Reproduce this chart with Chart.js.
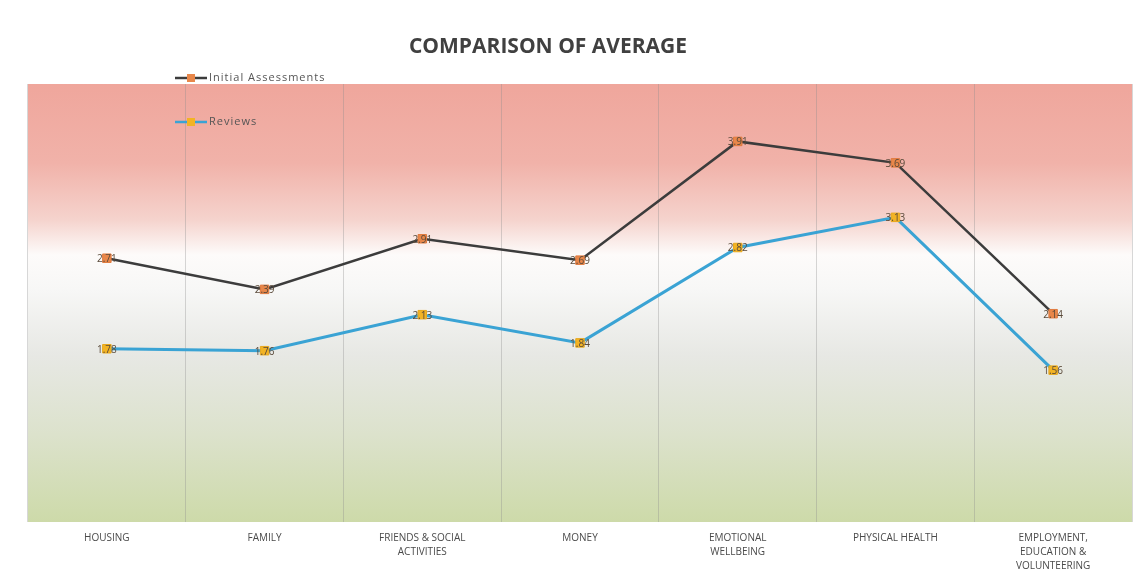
<!DOCTYPE html>
<html>
<head>
<meta charset="utf-8">
<script src="https://cdn.jsdelivr.net/npm/chart.js@4.4.1/dist/chart.umd.min.js"></script>
<style>
  html, body { margin: 0; padding: 0; background: #fff; }
  #wrap { width: 1141px; height: 578px; position: relative; }
</style>
</head>
<body>
<div id="wrap"><canvas id="avgChart" width="1141" height="578"></canvas></div>
<script>
const categories = [
    'HOUSING',
    'FAMILY',
    ['FRIENDS & SOCIAL', 'ACTIVITIES'],
    'MONEY',
    ['EMOTIONAL', 'WELLBEING'],
    'PHYSICAL HEALTH',
    ['EMPLOYMENT,', 'EDUCATION &', 'VOLUNTEERING']
];
const initialAssessments = [2.71, 2.39, 2.91, 2.69, 3.91, 3.69, 2.14];
const reviews = [1.78, 1.76, 2.13, 1.84, 2.82, 3.13, 1.56];
const seriesNames = ['Initial Assessments', 'Reviews'];

// gradient behind the plot area
const bgPlugin = {
    id: 'bg',
    beforeDraw(chart) {
        const { ctx, chartArea: a } = chart;
        const g = ctx.createLinearGradient(0, a.top, 0, a.bottom);
        g.addColorStop(0, '#efa69c');
        g.addColorStop(0.18, '#f1b2a9');
        g.addColorStop(0.31, '#f5d3cd');
        g.addColorStop(0.39, '#fdfbfa');
        g.addColorStop(0.47, '#f7f7f6');
        g.addColorStop(0.62, '#e7e8e4');
        g.addColorStop(0.80, '#dce2cc');
        g.addColorStop(1, '#cddaa9');
        ctx.save();
        ctx.fillStyle = g;
        ctx.fillRect(a.left, a.top, a.right - a.left, a.bottom - a.top);
        ctx.restore();
    }
};

// value labels, title and legend
const textPlugin = {
    id: 'texts',
    afterDraw(chart) {
        const ctx = chart.ctx;
        ctx.save();
        ctx.font = '10px "Open Sans", sans-serif';
        ctx.fillStyle = '#5a4a3a';
        ctx.textAlign = 'center';
        ctx.textBaseline = 'middle';
        chart.data.datasets.forEach((ds, i) => {
            chart.getDatasetMeta(i).data.forEach((pt, j) => {
                ctx.fillText(ds.data[j].toFixed(2), pt.x, pt.y + 1);
            });
        });

        ctx.font = 'bold 21px "Open Sans", sans-serif';
        ctx.fillStyle = '#404040';
        ctx.fillText('COMPARISON OF AVERAGE', 548, 47);

        const items = [
            { y: 78, line: '#3c3c3c', mark: '#e8874a' },
            { y: 122, line: '#3aa3d4', mark: '#f2b324' }
        ];
        items.forEach((it, i) => {
            ctx.strokeStyle = it.line;
            ctx.lineWidth = 2.5;
            ctx.beginPath();
            ctx.moveTo(175, it.y);
            ctx.lineTo(207, it.y);
            ctx.stroke();
            ctx.fillStyle = it.mark;
            ctx.fillRect(187, it.y - 4, 8, 8);
            ctx.font = '11px "Open Sans", sans-serif';
            ctx.letterSpacing = '1px';
            ctx.fillStyle = '#555';
            ctx.textAlign = 'left';
            ctx.fillText(seriesNames[i], 209, it.y);
            ctx.letterSpacing = '0px';
        });
        ctx.restore();
    }
};

new Chart(document.getElementById('avgChart'), {
    type: 'line',
    data: {
        labels: categories,
        datasets: [{
            label: seriesNames[0],
            data: initialAssessments,
            borderColor: '#3c3c3c',
            borderWidth: 2.5,
            backgroundColor: '#e8874a',
            pointStyle: 'rect',
            pointRadius: 6,
            pointBorderColor: '#e07a3e',
            pointBorderWidth: 1,
            tension: 0
        },
        {
            label: seriesNames[1],
            data: reviews,
            borderColor: '#3aa3d4',
            borderWidth: 3,
            backgroundColor: '#f2b324',
            pointStyle: 'rect',
            pointRadius: 6,
            pointBorderColor: '#e8a81c',
            pointBorderWidth: 1,
            tension: 0
        }]
    },
    options: {
        responsive: false,
        animation: false,
        layout: {
            padding: { top: 84, left: 28, right: 9, bottom: 0 }
        },
        plugins: {
            legend: { display: false },
            title: { display: false },
            tooltip: { enabled: false }
        },
        scales: {
            x: {
                offset: true,
                grid: {
                    offset: true,
                    color: 'rgba(140,140,140,0.35)',
                    drawTicks: false
                },
                border: { display: false },
                ticks: {
                    color: '#4a4a4a',
                    padding: 9,
                    maxRotation: 0,
                    autoSkip: false,
                    font: { family: '"Open Sans", sans-serif', size: 10, lineHeight: 1.4 }
                },
                afterFit(scale) {
                    scale.height = 56;
                }
            },
            y: {
                display: false,
                min: 0,
                max: 4.5
            }
        }
    },
    plugins: [bgPlugin, textPlugin]
});
</script>
</body>
</html>
